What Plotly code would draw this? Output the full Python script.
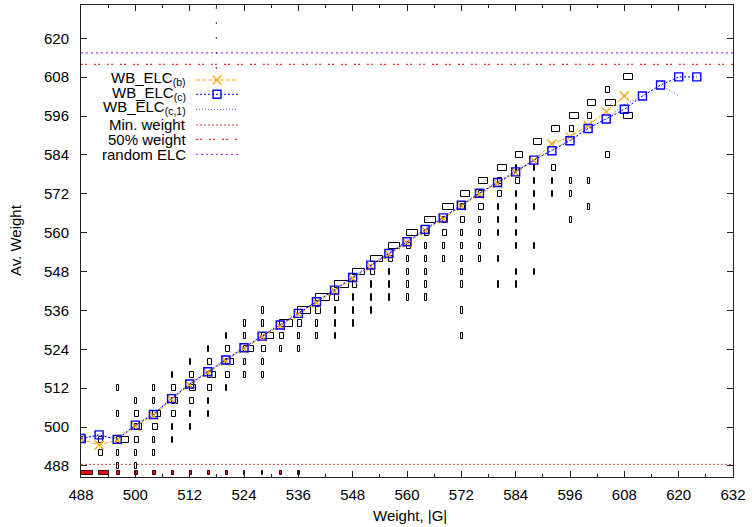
import plotly.graph_objects as go

# ---- frequency boxes: one column per |G|, one box per observed weight ----
hist_g = [488, 492, 496, 500, 504, 508, 512, 516, 520, 524, 528, 532, 536, 540, 544,
          548, 552, 556, 560, 564, 568, 572, 576, 580, 584, 588, 592, 596, 600, 604, 608]
hist_weights = [
    [496],
    [496, 492],
    [512, 504, 496, 492, 488],
    [508, 504, 500, 496, 492, 488],
    [512, 508, 504, 500, 496, 492],
    [516, 512, 508, 504, 500, 496],
    [520, 516, 512, 508, 504, 500],
    [524, 520, 516, 512, 508, 504],
    [528, 524, 520, 516, 512],
    [532, 528, 524, 520, 516],
    [536, 532, 528, 524, 520, 516],
    [532, 528, 524],
    [536, 532, 528, 524],
    [540, 536, 532, 528],
    [544, 540, 536, 532, 528],
    [548, 544, 540, 536, 532],
    [552, 548, 544, 540, 536],
    [556, 552, 548, 544, 540],
    [560, 556, 552, 548, 544, 540],
    [564, 560, 556, 552, 548, 544, 540],
    [568, 564, 560, 556, 552],
    [572, 568, 564, 560, 556, 552, 548, 544, 536, 528],
    [576, 572, 568, 564, 560, 556, 552],
    [580, 576, 572, 568, 564, 560, 552, 544],
    [584, 580, 576, 572, 568, 564, 560, 556, 548, 544],
    [588, 580, 576, 572, 568, 556, 548],
    [592, 580, 576, 572],
    [596, 592, 576, 572, 564],
    [600, 596, 576, 568],
    [604, 600, 584],
    [608, 596],
]
hist_widths = [
    [1.0],
    [0.9, 0.9],
    [0.35, 0.35, 2.6, 0.35, 0.35],
    [0.35, 0.9, 1.4, 0.9, 0.35, 0.35],
    [0.35, 0.35, 1.7, 0.9, 0.35, 0.35],
    [0.35, 0.9, 1.5, 0.9, 0.35, 0.35],
    [0.35, 0.9, 1.5, 0.9, 0.35, 0.35],
    [0.35, 0.9, 1.8, 0.9, 0.35, 0.35],
    [0.35, 0.9, 1.8, 0.9, 0.35],
    [0.35, 0.35, 2.2, 0.35, 0.35],
    [0.35, 0.35, 2.6, 0.9, 0.35, 0.35],
    [2.9, 0.9, 0.35],
    [2.9, 0.9, 0.35, 0.35],
    [2.9, 0.9, 0.35, 0.35],
    [3.1, 0.9, 0.35, 0.35, 0.35],
    [2.7, 0.9, 0.35, 0.35, 0.35],
    [2.65, 0.9, 0.35, 0.35, 0.35],
    [2.4, 0.9, 0.35, 0.35, 0.35],
    [2.4, 0.9, 0.35, 0.35, 0.35, 0.35],
    [2.3, 0.9, 0.35, 0.35, 0.35, 0.35, 0.35],
    [2.4, 0.9, 0.9, 0.35, 0.35],
    [2.0, 0.9, 0.9, 0.35, 0.35, 0.35, 0.35, 0.35, 0.35, 0.35],
    [1.8, 0.9, 0.9, 0.35, 0.35, 0.35, 0.35],
    [2.0, 0.9, 0.9, 0.35, 0.35, 0.35, 0.35, 0.35],
    [1.6, 0.35, 0.9, 0.35, 0.35, 0.35, 0.35, 0.35, 0.35, 0.35],
    [1.8, 0.35, 0.35, 0.35, 0.35, 0.35, 0.35],
    [1.8, 0.9, 0.35, 0.35],
    [2.0, 0.9, 0.35, 0.35, 0.35],
    [1.8, 0.9, 0.35, 0.35],
    [0.9, 2.2, 0.9],
    [2.0, 2.0],
]

# ---- random ELC frequency row ----
rand_g = [488, 492, 496, 500, 504, 508, 512, 516, 520, 524, 528, 532, 536]
rand_width = [2.7, 2.2, 0.55, 0.55, 0.55, 0.55, 0.55, 0.55, 0.55, 0.3, 0.3, 0.3, 0.3]
rand_level = 485.85

# ---- average weights ----
g_b = [488, 492, 496, 500, 504, 508, 512, 516, 520, 524, 528, 532, 536, 540, 544, 548,
       552, 556, 560, 564, 568, 572, 576, 580, 584, 588, 592, 596, 600, 604, 608]
avg_b = [496.3, 494.5, 496.0, 500.3, 503.6, 508.5, 513.0, 516.8, 520.4, 524.2, 527.8,
         531.2, 534.8, 538.4, 542.0, 545.9, 549.7, 553.3, 556.9, 560.7, 564.3, 568.2,
         571.9, 575.2, 578.6, 582.3, 587.4, 589.6, 593.2, 597.3, 602.2]

g_c = [488, 492, 496, 500, 504, 508, 512, 516, 520, 524, 528, 532, 536, 540, 544, 548,
       552, 556, 560, 564, 568, 572, 576, 580, 584, 588, 592, 596, 600, 604, 608, 612,
       616, 620, 624]
avg_c = [496.5, 497.6, 496.2, 500.6, 503.9, 508.8, 513.3, 517.1, 520.7, 524.5, 528.1,
         531.5, 535.1, 538.7, 542.3, 546.2, 550.0, 553.6, 557.2, 561.0, 564.6, 568.5,
         572.2, 575.5, 578.8, 582.4, 585.3, 588.4, 592.2, 595.1, 598.1, 602.2, 605.6,
         608.1, 608.1]

g_c1 = [488, 492, 496, 500, 504, 508, 512, 516, 520, 524, 528, 532, 536, 540, 544, 548,
        552, 556, 560, 564, 568, 572, 576, 580, 584, 588, 592, 596, 600, 604, 608, 612,
        616, 620]
avg_c1 = [496.5, 497.3, 496.4, 500.8, 504.1, 509.0, 513.5, 517.3, 520.9, 524.7, 528.3,
          531.7, 535.3, 538.9, 542.5, 546.4, 550.2, 553.8, 557.4, 561.2, 564.8, 568.7,
          572.4, 575.7, 579.0, 582.6, 585.5, 588.6, 592.4, 595.1, 599.5, 602.2, 605.6,
          602.3]

# ---- reference levels ----
min_weight = 488.5
half_weight = 612.0
random_elc = 615.5
marker_g = 517.9

X_RANGE = [488, 632]
Y_RANGE = [484.6, 630.3]
X_TICKS = list(range(488, 633, 12))
Y_TICKS = list(range(488, 621, 12))

FONT = "Liberation Sans, Arial, Helvetica, sans-serif"
ORANGE = "#ffa500"
BLUE = "#0000ff"
BLUE_LT = "#4a4aff"
RED = "#ff2a2a"
RED_DK = "#c84848"
PURPLE = "#a840f0"

W, H = 752, 527
L, R, T, B = 81, 19, 5, 50
PW, PH = W - L - R, H - T - B


def paper(px, py):
    return (px - L) / PW, (H - B - py) / PH


fig = go.Figure()

# boxes
bx, by, bw = [], [], []
for g, ws, wd in zip(hist_g, hist_weights, hist_widths):
    for w, d in zip(ws, wd):
        bx.append(g)
        by.append(w)
        bw.append(d)
fig.add_trace(go.Bar(orientation="h", y=by, x=bw, base=bx, width=1.9,
                     marker=dict(color="rgba(255,255,255,0)",
                                 line=dict(color="black", width=1)),
                     showlegend=False, hoverinfo="skip"))
fig.add_trace(go.Bar(orientation="h", y=[rand_level] * len(rand_g), x=rand_width,
                     base=rand_g, width=1.2,
                     marker=dict(color="#e81010", line=dict(color="#300000", width=1)),
                     showlegend=False, hoverinfo="skip"))

# average weight curves
fig.add_trace(go.Scatter(x=g_c1, y=avg_c1, mode="lines",
                         line=dict(color=BLUE_LT, width=1, dash="1px,2px"),
                         showlegend=False, hoverinfo="skip"))
fig.add_trace(go.Scatter(x=g_b, y=avg_b, mode="lines+markers",
                         line=dict(color=ORANGE, width=1, dash="4px,2px"),
                         marker=dict(symbol="x-thin", size=9,
                                     line=dict(color=ORANGE, width=1.3)),
                         showlegend=False, hoverinfo="skip"))
fig.add_trace(go.Scatter(x=g_c, y=avg_c, mode="lines+markers",
                         line=dict(color=BLUE, width=1, dash="2px,2px"),
                         marker=dict(symbol="square-open", size=8,
                                     line=dict(color=BLUE, width=1.4)),
                         showlegend=False, hoverinfo="skip"))

shapes = []
# horizontal reference lines
shapes.append(dict(type="line", xref="paper", yref="y", x0=0, x1=1,
                   y0=min_weight, y1=min_weight,
                   line=dict(color=RED_DK, width=1, dash="2px,2px")))
shapes.append(dict(type="line", xref="paper", yref="y", x0=0, x1=1,
                   y0=half_weight, y1=half_weight,
                   line=dict(color=RED, width=1.2, dash="2px,2px,2px,7px")))
shapes.append(dict(type="line", xref="paper", yref="y", x0=0, x1=1,
                   y0=random_elc, y1=random_elc,
                   line=dict(color=PURPLE, width=1.2, dash="2px,3px")))
shapes.append(dict(type="line", xref="x", yref="paper", x0=marker_g, x1=marker_g,
                   y0=(half_weight - Y_RANGE[0]) / (Y_RANGE[1] - Y_RANGE[0]) - 0.01, y1=1,
                   line=dict(color="#555555", width=1.2, dash="2px,13px")))

# key: (label, text centre, sample line y) in pixels
key_rows = [
    ("WB_ELC<sub>(b)</sub>", 78.3, 80.0, dict(color=ORANGE, width=1, dash="4px,2px")),
    ("WB_ELC<sub>(c)</sub>", 92.7, 94.3, dict(color=BLUE, width=1, dash="2px,2px")),
    ("WB_ELC<sub>(c,1)</sub>", 107.3, 109.3, dict(color=BLUE_LT, width=1, dash="1px,2px")),
    ("Min. weight", 125.0, 125.0, dict(color=RED_DK, width=1, dash="2px,2px")),
    ("50% weight", 140.0, 139.3, dict(color=RED, width=1.2, dash="2px,2px,2px,7px")),
    ("random ELC", 155.0, 154.3, dict(color=PURPLE, width=1.2, dash="2px,3px")),
]
annotations = []
for label, ty, ly, ln in key_rows:
    xa, ya = paper(196, ly)
    xb, _ = paper(238, ly)
    shapes.append(dict(type="line", xref="paper", yref="paper", x0=xa, x1=xb,
                       y0=ya, y1=ya, line=ln))
    xt, yt = paper(187, ty - 10)
    annotations.append(dict(text=label, xref="paper", yref="paper", x=xt, y=yt,
                            xanchor="right", yanchor="top", showarrow=False,
                            borderpad=0,
                            font=dict(family=FONT, size=15, color="black")))

# key symbols
cx, cy = paper(217, 80.0)
dx, dy = 4.5 / PW, 4.5 / PH
shapes.append(dict(type="line", xref="paper", yref="paper", x0=cx - dx, x1=cx + dx,
                   y0=cy - dy, y1=cy + dy, line=dict(color=ORANGE, width=1.3)))
shapes.append(dict(type="line", xref="paper", yref="paper", x0=cx - dx, x1=cx + dx,
                   y0=cy + dy, y1=cy - dy, line=dict(color=ORANGE, width=1.3)))
cx, cy = paper(217, 94.3)
dx, dy = 4 / PW, 4 / PH
shapes.append(dict(type="rect", xref="paper", yref="paper", x0=cx - dx, x1=cx + dx,
                   y0=cy - dy, y1=cy + dy, line=dict(color=BLUE, width=1.4)))

# axis titles
annotations.append(dict(text="Av. Weight", xref="paper", yref="paper",
                        x=paper(15, 0)[0], y=paper(0, 240)[1], textangle=-90,
                        xanchor="center", yanchor="middle", showarrow=False,
                        font=dict(family=FONT, size=15, color="black")))
annotations.append(dict(text="Weight, |G|", xref="paper", yref="paper",
                        x=paper(410, 0)[0], y=paper(0, 515)[1],
                        xanchor="center", yanchor="middle", showarrow=False,
                        font=dict(family=FONT, size=15, color="black")))

axis_common = dict(showgrid=False, zeroline=False, showline=True, linecolor="#222222",
                   linewidth=1, mirror="ticks", ticks="inside", tickcolor="#222222",
                   ticklen=6, tickwidth=1,
                   tickfont=dict(family=FONT, size=15, color="black"))

fig.update_layout(
    width=W, height=H,
    margin=dict(l=L, r=R, t=T, b=B),
    paper_bgcolor="white", plot_bgcolor="white",
    barmode="overlay", bargap=0,
    showlegend=False,
    shapes=shapes, annotations=annotations,
    xaxis=dict(range=X_RANGE, tickmode="array", tickvals=X_TICKS,
               ticktext=[str(v) for v in X_TICKS], ticklabelstandoff=4,
               minor=dict(tickmode="linear", tick0=494, dtick=12, ticks="inside",
                          ticklen=3, tickcolor="#222222"),
               **axis_common),
    yaxis=dict(range=Y_RANGE, tickmode="array", tickvals=Y_TICKS,
               ticktext=[str(v) for v in Y_TICKS], ticklabelstandoff=8,
               **axis_common),
)

fig.write_html("out.html")
